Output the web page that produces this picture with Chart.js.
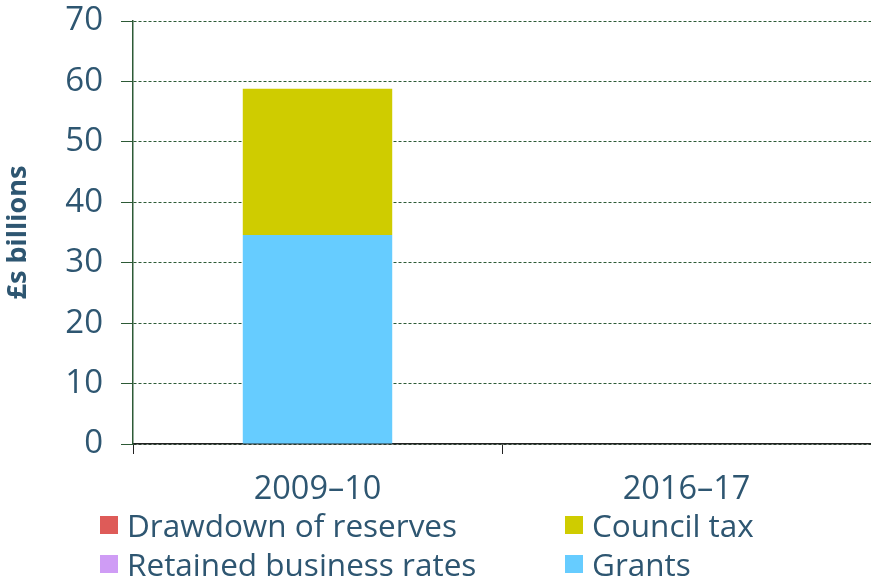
<!DOCTYPE html>
<html lang="en">
  <head>
    <meta charset="UTF-8" />
    <title>Local government funding</title>
    <script src="https://cdn.jsdelivr.net/npm/chart.js@4"></script>
    <style>
      body { margin: 0; background: #fff; }
      #wrap { position: relative; width: 871px; height: 579px; }
      #legend { position: absolute; left: 100px; top: 503px; width: 771px; font-family: "Open Sans", sans-serif; font-size: 31.5px; color: #2e5671; }
      .item { position: absolute; display: flex; align-items: center; white-space: nowrap; line-height: 44px; }
      .box { width: 18px; height: 18px; margin-right: 9px; }
    </style>
  </head>
  <body>
    <div id="wrap">
      <canvas id="chart" width="871" height="579"></canvas>
      <div id="legend"></div>
    </div>
    <script>
      const categories = ["2009–10", "2016–17"];
      const grants = [34.6, null];
      const retainedRates = [0, null];
      const councilTax = [24.2, null];
      const reserves = [0, null];
      const yTicks = [0, 10, 20, 30, 40, 50, 60, 70];

      const textColor = "#2e5671";
      const gridColor = "#2d5a36";

      // legend order as in the source, two columns
      const legendItems = [
        { label: "Drawdown of reserves", color: "#de5b58", col: 0, row: 0 },
        { label: "Council tax", color: "#cfcc00", col: 1, row: 0 },
        { label: "Retained business rates", color: "#cf9cf5", col: 0, row: 1 },
        { label: "Grants", color: "#66ccff", col: 1, row: 1 },
      ];
      const colorOf = (name) => legendItems.find((l) => l.label === name).color;

      const datasets = [
        { label: "Grants", data: grants },
        { label: "Retained business rates", data: retainedRates },
        { label: "Council tax", data: councilTax },
        { label: "Drawdown of reserves", data: reserves },
      ].map((d) => ({
        ...d,
        backgroundColor: colorOf(d.label),
        borderWidth: 0,
        barPercentage: 1,
        categoryPercentage: 0.405,
      }));

      new Chart(document.getElementById("chart"), {
        type: "bar",
        data: { labels: categories, datasets },
        options: {
          responsive: false,
          animation: false,
          layout: { padding: { top: 21, right: 0, bottom: 75, left: 0 } },
          plugins: { legend: { display: false }, tooltip: { enabled: false } },
          scales: {
            x: {
              stacked: true,
              afterFit: (s) => { s.height = 60; },
              grid: { drawOnChartArea: false, drawTicks: true, tickLength: 10, tickColor: "#222" },
              border: { color: "#222", width: 1.5 },
              ticks: { color: textColor, font: { family: "Open Sans", size: 32.5 }, padding: 16 },
            },
            y: {
              stacked: true,
              min: 0,
              max: 70,
              afterFit: (s) => { s.width = 133; s.paddingTop = 0; s.paddingBottom = 0; },
              afterBuildTicks: (s) => { s.ticks = yTicks.map((v) => ({ value: v })); },
              grid: { color: gridColor, lineWidth: 1, tickLength: 12, tickColor: gridColor, tickBorderDash: [] },
              border: { color: gridColor, width: 1.5, dash: [3, 2] },
              ticks: { color: textColor, font: { family: "Open Sans", size: 33 }, padding: 18 },
              title: {
                display: true,
                text: "£s billions",
                color: textColor,
                font: { family: "Open Sans", size: 27, weight: "bold" },
                padding: { top: 2, bottom: 0 },
              },
            },
          },
        },
      });

      const legend = document.getElementById("legend");
      legendItems.forEach((it) => {
        const el = document.createElement("div");
        el.className = "item";
        el.style.left = it.col * 465 + "px";
        el.style.top = it.row * 39 + "px";
        el.innerHTML = '<span class="box" style="background:' + it.color + '"></span>' + it.label;
        legend.appendChild(el);
      });
    </script>
  </body>
</html>
